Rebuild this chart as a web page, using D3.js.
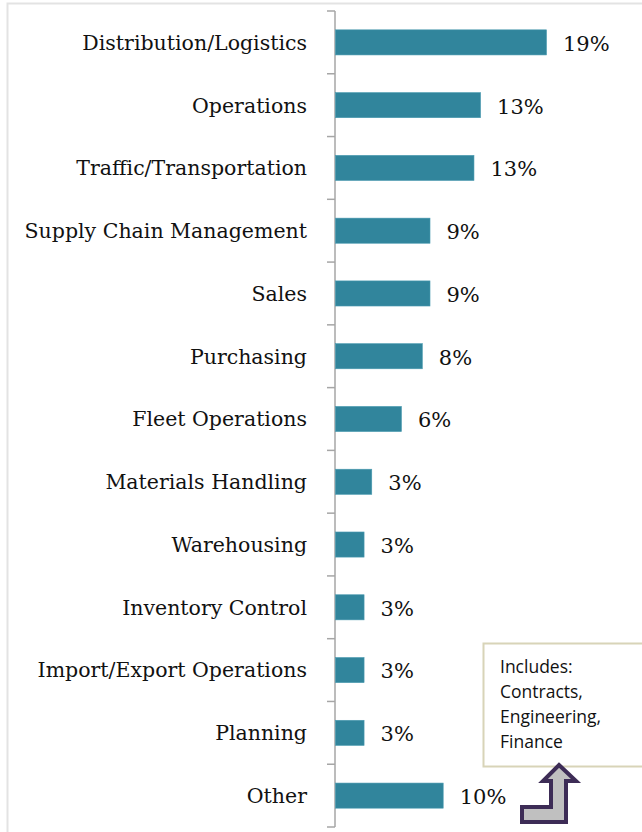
<!DOCTYPE html>
<html>
<head>
<meta charset="utf-8">
<script src="https://cdn.jsdelivr.net/npm/d3@7"></script>
<style>
  body { margin: 0; background: #fff; }
  svg { display: block; }
</style>
</head>
<body>
<svg width="642" height="832"></svg>
<script>
// categories, top to bottom
let categories = ["Distribution/Logistics", "Operations", "Traffic/Transportation",
  "Supply Chain Management", "Sales", "Purchasing", "Fleet Operations",
  "Materials Handling", "Warehousing", "Inventory Control",
  "Import/Export Operations", "Planning", "Other"];
// percent values
let values = [19.2, 13.2, 12.6, 8.6, 8.6, 7.9, 6.0, 3.3, 2.6, 2.6, 2.6, 2.6, 9.8];
let valueLabels = ["19%", "13%", "13%", "9%", "9%", "8%", "6%", "3%", "3%", "3%", "3%", "3%", "10%"];
let calloutLines = ["Includes:", "Contracts,", "Engineering,", "Finance"];

let svg = d3.select("svg");
let data = categories.map((c, i) => ({cat: c, v: values[i], lab: valueLabels[i]}));

// frame lines of the pasted picture
svg.append("path")
   .attr("d", "M7.5,832V3.5H642")
   .attr("fill", "none").attr("stroke", "#e3e3e3").attr("stroke-width", 2);

let x0 = 335;
let scX = d3.scaleLinear().domain([0, 19.2]).range([x0, 546]);
let scY = d3.scaleBand().domain(categories).range([11, 827]).paddingInner(0.6).paddingOuter(0.3);

// axis with ticks between categories
let axisG = svg.append("g").attr("stroke", "#a6a6a6").attr("stroke-width", 1.5);
axisG.append("line").attr("x1", x0).attr("x2", x0).attr("y1", 11).attr("y2", 827);
let bounds = d3.range(categories.length + 1).map(i => 11 + i * (816 / categories.length));
axisG.selectAll("line.tk").data(bounds).enter()
     .append("line").attr("class", "tk")
     .attr("x1", x0 - 8).attr("x2", x0)
     .attr("y1", d => d).attr("y2", d => d);

svg.append("g").selectAll("rect")
   .data(data).enter()
   .append("rect")
   .attr("x", x0 + 0.5)
   .attr("y", d => scY(d.cat))
   .attr("width", d => scX(d.v) - x0)
   .attr("height", scY.bandwidth())
   .attr("fill", "#31859c")
   .attr("stroke", "#4a9ab0").attr("stroke-width", 0.6);

let serif = "'DejaVu Serif', serif";
svg.append("g").selectAll("text")
   .data(data).enter()
   .append("text")
   .attr("x", 307)
   .attr("y", d => scY(d.cat) + scY.bandwidth() / 2)
   .attr("dy", "0.36em")
   .attr("text-anchor", "end")
   .attr("font-family", serif).attr("font-size", 20.5)
   .attr("fill", "#111")
   .text(d => d.cat);

svg.append("g").selectAll("text")
   .data(data).enter()
   .append("text")
   .attr("x", d => scX(d.v) + 17)
   .attr("y", d => scY(d.cat) + scY.bandwidth() / 2)
   .attr("dy", "0.4em")
   .attr("font-family", serif).attr("font-size", 21)
   .attr("fill", "#111")
   .text(d => d.lab);

// callout box
let box = svg.append("g");
box.append("rect")
   .attr("x", 483.5).attr("y", 643.5).attr("width", 170).attr("height", 123)
   .attr("fill", "#fff").attr("stroke", "#d8d4b8").attr("stroke-width", 2);
box.selectAll("text")
   .data(calloutLines).enter()
   .append("text")
   .attr("x", 500)
   .attr("y", (d, i) => 673 + i * 25)
   .attr("font-family", "'Open Sans', sans-serif").attr("font-size", 17.5)
   .attr("fill", "#111")
   .text(d => d);

// bent-up arrow
let arrowPts = [[559, 765], [576, 781], [566, 781], [566, 822], [522, 822],
                [522, 807], [551, 807], [551, 781], [543, 781]];
svg.append("polygon")
   .attr("points", arrowPts.map(p => p.join(",")).join(" "))
   .attr("fill", "#c0c0c0").attr("stroke", "#3d2c56").attr("stroke-width", 4)
   .attr("stroke-linejoin", "miter");
</script>
</body>
</html>
